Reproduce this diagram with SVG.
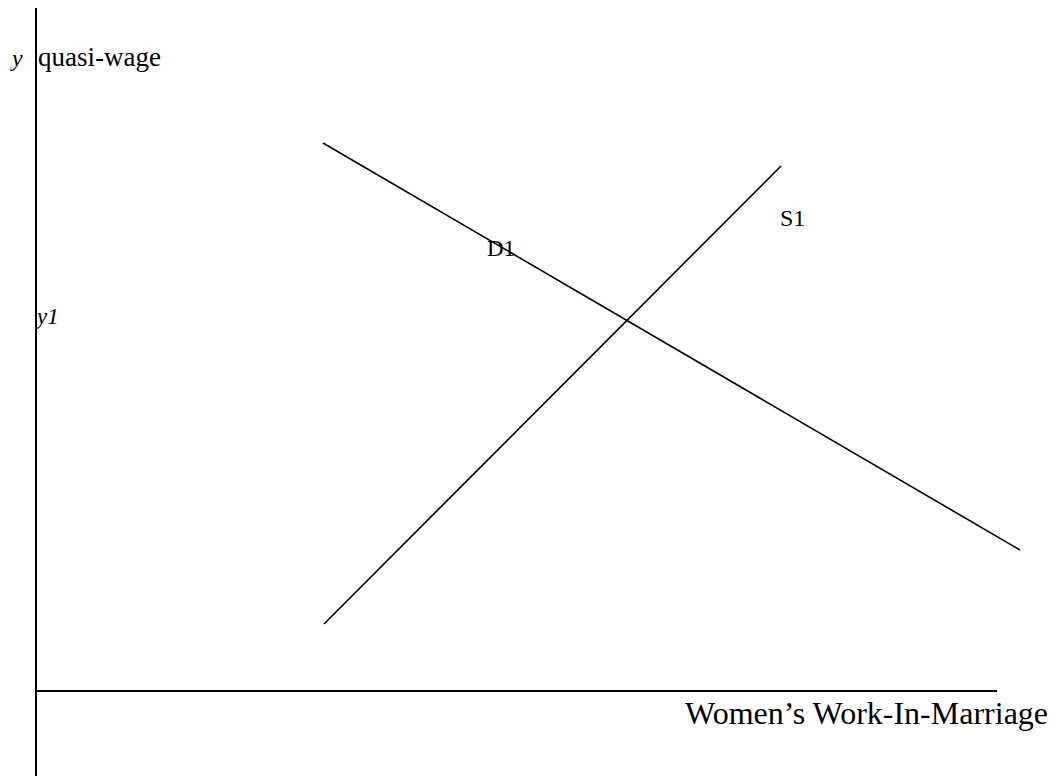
<svg xmlns="http://www.w3.org/2000/svg" width="1062" height="778" viewBox="0 0 1062 778">
<style>
.ax{stroke:#000;stroke-width:2;fill:none}
.ln{stroke:#000;stroke-width:1.6;fill:none}
.t{font-family:"Liberation Serif","Times New Roman",serif;fill:#000}
.i{font-style:italic}
</style>
<rect width="1062" height="778" fill="#fff"/>
<g id="connectors">
<line class="ax" x1="36" y1="8" x2="36" y2="776"/>
<line class="ax" x1="36" y1="691" x2="997" y2="691"/>
<line id="D1-line" class="ln" x1="323" y1="143" x2="1020" y2="550"/>
<line id="S1-line" class="ln" x1="324" y1="624" x2="781" y2="166"/>
</g>
<g id="label-y"><text class="t i" x="12" y="66" font-size="24">y</text></g>
<g id="label-quasi"><text class="t" x="38" y="66" font-size="27">quasi-wage</text></g>
<g id="label-y1"><text class="t i" x="37" y="324" font-size="23">y1</text></g>
<g id="label-D1"><text class="t" x="487" y="256" font-size="23">D1</text></g>
<g id="label-S1"><text class="t" x="780" y="226" font-size="24">S1</text></g>
<g id="label-x"><text class="t" x="685" y="724" font-size="32">Women’s Work-In-Marriage</text></g>
</svg>
